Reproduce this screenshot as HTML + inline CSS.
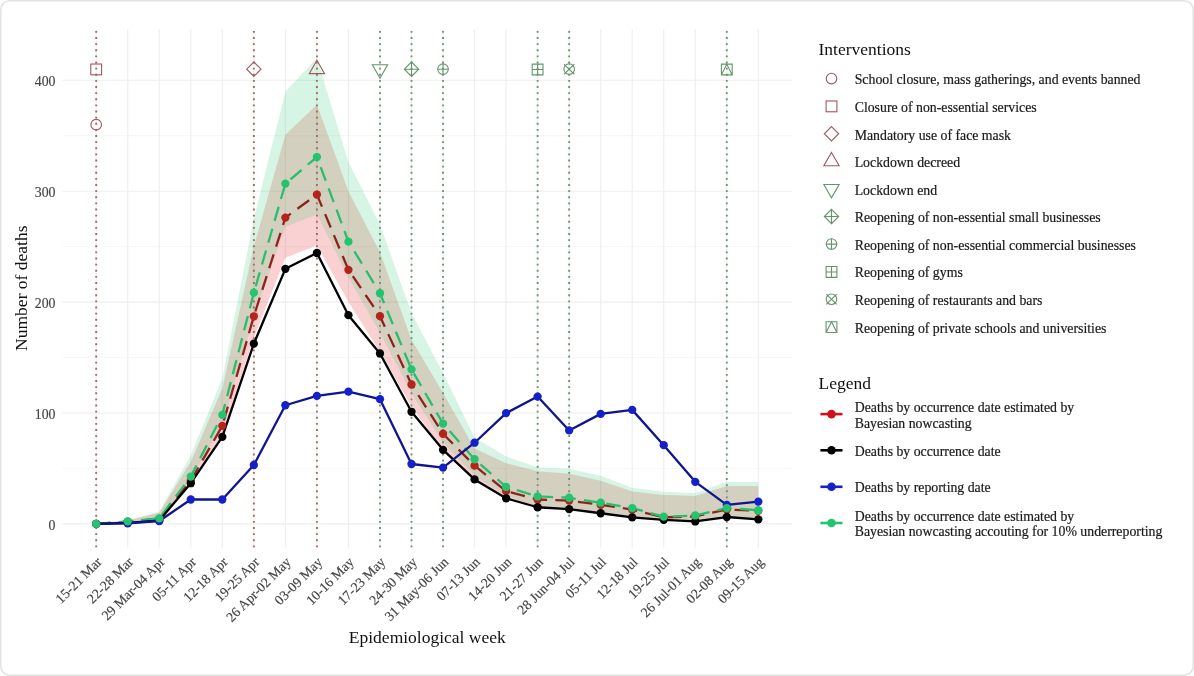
<!DOCTYPE html>
<html><head><meta charset="utf-8"><style>
html,body{margin:0;padding:0;background:#fff;}
svg{display:block;will-change:transform;}
</style></head><body>
<svg width="1194" height="676" viewBox="0 0 1194 676">
<rect x="0" y="0" width="1194" height="676" fill="#fff"/>
<line x1="62.6" x2="791.9" y1="468.45" y2="468.45" stroke="#f4f4f4" stroke-width="0.8"/>
<line x1="62.6" x2="791.9" y1="357.55" y2="357.55" stroke="#f4f4f4" stroke-width="0.8"/>
<line x1="62.6" x2="791.9" y1="246.65" y2="246.65" stroke="#f4f4f4" stroke-width="0.8"/>
<line x1="62.6" x2="791.9" y1="135.75" y2="135.75" stroke="#f4f4f4" stroke-width="0.8"/>
<line x1="62.6" x2="791.9" y1="523.9" y2="523.9" stroke="#eeeeee" stroke-width="1.1"/>
<line x1="62.6" x2="791.9" y1="413" y2="413" stroke="#eeeeee" stroke-width="1.1"/>
<line x1="62.6" x2="791.9" y1="302.1" y2="302.1" stroke="#eeeeee" stroke-width="1.1"/>
<line x1="62.6" x2="791.9" y1="191.2" y2="191.2" stroke="#eeeeee" stroke-width="1.1"/>
<line x1="62.6" x2="791.9" y1="80.3" y2="80.3" stroke="#eeeeee" stroke-width="1.1"/>
<line x1="96.2" x2="96.2" y1="29.3" y2="547.5" stroke="#eeeeee" stroke-width="1.1"/>
<line x1="127.73" x2="127.73" y1="29.3" y2="547.5" stroke="#eeeeee" stroke-width="1.1"/>
<line x1="159.26" x2="159.26" y1="29.3" y2="547.5" stroke="#eeeeee" stroke-width="1.1"/>
<line x1="190.79" x2="190.79" y1="29.3" y2="547.5" stroke="#eeeeee" stroke-width="1.1"/>
<line x1="222.32" x2="222.32" y1="29.3" y2="547.5" stroke="#eeeeee" stroke-width="1.1"/>
<line x1="253.85" x2="253.85" y1="29.3" y2="547.5" stroke="#eeeeee" stroke-width="1.1"/>
<line x1="285.38" x2="285.38" y1="29.3" y2="547.5" stroke="#eeeeee" stroke-width="1.1"/>
<line x1="316.91" x2="316.91" y1="29.3" y2="547.5" stroke="#eeeeee" stroke-width="1.1"/>
<line x1="348.44" x2="348.44" y1="29.3" y2="547.5" stroke="#eeeeee" stroke-width="1.1"/>
<line x1="379.97" x2="379.97" y1="29.3" y2="547.5" stroke="#eeeeee" stroke-width="1.1"/>
<line x1="411.5" x2="411.5" y1="29.3" y2="547.5" stroke="#eeeeee" stroke-width="1.1"/>
<line x1="443.03" x2="443.03" y1="29.3" y2="547.5" stroke="#eeeeee" stroke-width="1.1"/>
<line x1="474.56" x2="474.56" y1="29.3" y2="547.5" stroke="#eeeeee" stroke-width="1.1"/>
<line x1="506.09" x2="506.09" y1="29.3" y2="547.5" stroke="#eeeeee" stroke-width="1.1"/>
<line x1="537.62" x2="537.62" y1="29.3" y2="547.5" stroke="#eeeeee" stroke-width="1.1"/>
<line x1="569.15" x2="569.15" y1="29.3" y2="547.5" stroke="#eeeeee" stroke-width="1.1"/>
<line x1="600.68" x2="600.68" y1="29.3" y2="547.5" stroke="#eeeeee" stroke-width="1.1"/>
<line x1="632.21" x2="632.21" y1="29.3" y2="547.5" stroke="#eeeeee" stroke-width="1.1"/>
<line x1="663.74" x2="663.74" y1="29.3" y2="547.5" stroke="#eeeeee" stroke-width="1.1"/>
<line x1="695.27" x2="695.27" y1="29.3" y2="547.5" stroke="#eeeeee" stroke-width="1.1"/>
<line x1="726.8" x2="726.8" y1="29.3" y2="547.5" stroke="#eeeeee" stroke-width="1.1"/>
<line x1="758.33" x2="758.33" y1="29.3" y2="547.5" stroke="#eeeeee" stroke-width="1.1"/>
<path d="M96.2,523.35 L127.73,520.57 L159.26,512.81 L190.79,461.8 L222.32,388.6 L253.85,246.65 L285.38,134.64 L316.91,104.7 L348.44,191.2 L379.97,252.19 L411.5,339.81 L443.03,393.04 L474.56,448.49 L506.09,463.13 L537.62,471.33 L569.15,473.66 L600.68,480.65 L632.21,491.41 L663.74,494.96 L695.27,496.06 L726.8,486.08 L758.33,486.08 L758.33,519.46 L726.8,517.25 L695.27,521.46 L663.74,519.8 L632.21,517.25 L600.68,513.36 L569.15,509.48 L537.62,507.82 L506.09,498.95 L474.56,480.65 L443.03,450.71 L411.5,406.35 L379.97,352 L348.44,302.1 L316.91,245.54 L285.38,257.74 L253.85,337.59 L222.32,435.18 L190.79,482.87 L159.26,520.57 L127.73,522.79 L96.2,523.9 Z" fill="#e41a1c" fill-opacity="0.2"/>
<path d="M96.2,523.28 L127.73,520.2 L159.26,511.58 L190.79,455.14 L222.32,378.62 L253.85,218.92 L285.38,91.39 L316.91,58.12 L348.44,162.37 L379.97,224.47 L411.5,313.19 L443.03,373.08 L474.56,437.4 L506.09,456.58 L537.62,467.23 L569.15,468.78 L600.68,475.84 L632.21,487.8 L663.74,491.74 L695.27,492.97 L726.8,481.88 L758.33,481.88 L758.33,518.97 L726.8,516.51 L695.27,521.19 L663.74,519.34 L632.21,516.51 L600.68,512.19 L569.15,507.88 L537.62,506.03 L506.09,496.17 L474.56,475.84 L443.03,442.57 L411.5,393.28 L379.97,332.91 L348.44,277.46 L316.91,214.61 L285.38,226.69 L253.85,316.89 L222.32,425.32 L190.79,478.31 L159.26,520.2 L127.73,522.67 L96.2,523.9 Z" fill="#37cd78" fill-opacity="0.2"/>
<line x1="96.2" x2="96.2" y1="30.95" y2="547.5" stroke="#a66862" stroke-width="1.9" stroke-dasharray="1.9 4.225"/>
<line x1="253.85" x2="253.85" y1="30.95" y2="547.5" stroke="#a66862" stroke-width="1.9" stroke-dasharray="1.9 4.225"/>
<line x1="316.91" x2="316.91" y1="30.95" y2="547.5" stroke="#a66862" stroke-width="1.9" stroke-dasharray="1.9 4.225"/>
<line x1="379.97" x2="379.97" y1="30.95" y2="547.5" stroke="#6f9474" stroke-width="1.9" stroke-dasharray="1.9 4.225"/>
<line x1="411.5" x2="411.5" y1="30.95" y2="547.5" stroke="#6f9474" stroke-width="1.9" stroke-dasharray="1.9 4.225"/>
<line x1="443.03" x2="443.03" y1="30.95" y2="547.5" stroke="#6f9474" stroke-width="1.9" stroke-dasharray="1.9 4.225"/>
<line x1="537.62" x2="537.62" y1="30.95" y2="547.5" stroke="#6f9474" stroke-width="1.9" stroke-dasharray="1.9 4.225"/>
<line x1="569.15" x2="569.15" y1="30.95" y2="547.5" stroke="#6f9474" stroke-width="1.9" stroke-dasharray="1.9 4.225"/>
<line x1="726.8" x2="726.8" y1="30.95" y2="547.5" stroke="#6f9474" stroke-width="1.9" stroke-dasharray="1.9 4.225"/>
<path d="M96.2,523.9 L127.73,521.68 L159.26,518.91 L190.79,480.65 L222.32,425.86 L253.85,316.3 L285.38,217.59 L316.91,194.53 L348.44,269.83 L379.97,316.18 L411.5,384.5 L443.03,433.74 L474.56,465.68 L506.09,491.18 L537.62,499.5 L569.15,500.61 L600.68,504.83 L632.21,509.59 L663.74,517.36 L695.27,516.36 L726.8,509.59 L758.33,510.81" fill="none" stroke="#8e231c" stroke-width="2.3" stroke-dasharray="14.5 8.2"/>
<path d="M96.2,523.9 L127.73,521.35 L159.26,518.36 L190.79,476.55 L222.32,414.89 L253.85,292.67 L285.38,183.66 L316.91,157.04 L348.44,241.66 L379.97,293.23 L411.5,369.42 L443.03,423.65 L474.56,459.25 L506.09,486.97 L537.62,496.4 L569.15,497.73 L600.68,502.72 L632.21,508.04 L663.74,516.69 L695.27,515.47 L726.8,508.04 L758.33,510.26" fill="none" stroke="#2cbd6c" stroke-width="2.3" stroke-dasharray="14.5 8.2"/>
<path d="M96.2,523.9 L127.73,522.79 L159.26,520.57 L190.79,483.2 L222.32,436.84 L253.85,343.69 L285.38,268.83 L316.91,252.97 L348.44,315.19 L379.97,353.45 L411.5,411.78 L443.03,449.82 L474.56,479.43 L506.09,498.28 L537.62,507.26 L569.15,509.15 L600.68,513.25 L632.21,517.36 L663.74,519.8 L695.27,521.46 L726.8,517.02 L758.33,519.35" fill="none" stroke="#000" stroke-width="2.3" stroke-linejoin="round"/>
<path d="M96.2,523.9 L127.73,523.35 L159.26,521.02 L190.79,499.5 L222.32,499.5 L253.85,465.01 L285.38,405.24 L316.91,395.81 L348.44,391.6 L379.97,399.14 L411.5,464.01 L443.03,467.56 L474.56,442.72 L506.09,413.11 L537.62,396.59 L569.15,430.41 L600.68,413.89 L632.21,409.89 L663.74,445.16 L695.27,481.87 L726.8,504.94 L758.33,501.61" fill="none" stroke="#0f1490" stroke-width="2.3" stroke-linejoin="round"/>
<circle cx="96.2" cy="523.9" r="4.15" fill="#b5231b"/>
<circle cx="127.73" cy="521.68" r="4.15" fill="#b5231b"/>
<circle cx="159.26" cy="518.91" r="4.15" fill="#b5231b"/>
<circle cx="190.79" cy="480.65" r="4.15" fill="#b5231b"/>
<circle cx="222.32" cy="425.86" r="4.15" fill="#b5231b"/>
<circle cx="253.85" cy="316.3" r="4.15" fill="#b5231b"/>
<circle cx="285.38" cy="217.59" r="4.15" fill="#b5231b"/>
<circle cx="316.91" cy="194.53" r="4.15" fill="#b5231b"/>
<circle cx="348.44" cy="269.83" r="4.15" fill="#b5231b"/>
<circle cx="379.97" cy="316.18" r="4.15" fill="#b5231b"/>
<circle cx="411.5" cy="384.5" r="4.15" fill="#b5231b"/>
<circle cx="443.03" cy="433.74" r="4.15" fill="#b5231b"/>
<circle cx="474.56" cy="465.68" r="4.15" fill="#b5231b"/>
<circle cx="506.09" cy="491.18" r="4.15" fill="#b5231b"/>
<circle cx="537.62" cy="499.5" r="4.15" fill="#b5231b"/>
<circle cx="569.15" cy="500.61" r="4.15" fill="#b5231b"/>
<circle cx="600.68" cy="504.83" r="4.15" fill="#b5231b"/>
<circle cx="632.21" cy="509.59" r="4.15" fill="#b5231b"/>
<circle cx="663.74" cy="517.36" r="4.15" fill="#b5231b"/>
<circle cx="695.27" cy="516.36" r="4.15" fill="#b5231b"/>
<circle cx="726.8" cy="509.59" r="4.15" fill="#b5231b"/>
<circle cx="758.33" cy="510.81" r="4.15" fill="#b5231b"/>
<circle cx="96.2" cy="523.9" r="4.15" fill="#000"/>
<circle cx="127.73" cy="522.79" r="4.15" fill="#000"/>
<circle cx="159.26" cy="520.57" r="4.15" fill="#000"/>
<circle cx="190.79" cy="483.2" r="4.15" fill="#000"/>
<circle cx="222.32" cy="436.84" r="4.15" fill="#000"/>
<circle cx="253.85" cy="343.69" r="4.15" fill="#000"/>
<circle cx="285.38" cy="268.83" r="4.15" fill="#000"/>
<circle cx="316.91" cy="252.97" r="4.15" fill="#000"/>
<circle cx="348.44" cy="315.19" r="4.15" fill="#000"/>
<circle cx="379.97" cy="353.45" r="4.15" fill="#000"/>
<circle cx="411.5" cy="411.78" r="4.15" fill="#000"/>
<circle cx="443.03" cy="449.82" r="4.15" fill="#000"/>
<circle cx="474.56" cy="479.43" r="4.15" fill="#000"/>
<circle cx="506.09" cy="498.28" r="4.15" fill="#000"/>
<circle cx="537.62" cy="507.26" r="4.15" fill="#000"/>
<circle cx="569.15" cy="509.15" r="4.15" fill="#000"/>
<circle cx="600.68" cy="513.25" r="4.15" fill="#000"/>
<circle cx="632.21" cy="517.36" r="4.15" fill="#000"/>
<circle cx="663.74" cy="519.8" r="4.15" fill="#000"/>
<circle cx="695.27" cy="521.46" r="4.15" fill="#000"/>
<circle cx="726.8" cy="517.02" r="4.15" fill="#000"/>
<circle cx="758.33" cy="519.35" r="4.15" fill="#000"/>
<circle cx="96.2" cy="523.9" r="4.15" fill="#1420c8"/>
<circle cx="127.73" cy="523.35" r="4.15" fill="#1420c8"/>
<circle cx="159.26" cy="521.02" r="4.15" fill="#1420c8"/>
<circle cx="190.79" cy="499.5" r="4.15" fill="#1420c8"/>
<circle cx="222.32" cy="499.5" r="4.15" fill="#1420c8"/>
<circle cx="253.85" cy="465.01" r="4.15" fill="#1420c8"/>
<circle cx="285.38" cy="405.24" r="4.15" fill="#1420c8"/>
<circle cx="316.91" cy="395.81" r="4.15" fill="#1420c8"/>
<circle cx="348.44" cy="391.6" r="4.15" fill="#1420c8"/>
<circle cx="379.97" cy="399.14" r="4.15" fill="#1420c8"/>
<circle cx="411.5" cy="464.01" r="4.15" fill="#1420c8"/>
<circle cx="443.03" cy="467.56" r="4.15" fill="#1420c8"/>
<circle cx="474.56" cy="442.72" r="4.15" fill="#1420c8"/>
<circle cx="506.09" cy="413.11" r="4.15" fill="#1420c8"/>
<circle cx="537.62" cy="396.59" r="4.15" fill="#1420c8"/>
<circle cx="569.15" cy="430.41" r="4.15" fill="#1420c8"/>
<circle cx="600.68" cy="413.89" r="4.15" fill="#1420c8"/>
<circle cx="632.21" cy="409.89" r="4.15" fill="#1420c8"/>
<circle cx="663.74" cy="445.16" r="4.15" fill="#1420c8"/>
<circle cx="695.27" cy="481.87" r="4.15" fill="#1420c8"/>
<circle cx="726.8" cy="504.94" r="4.15" fill="#1420c8"/>
<circle cx="758.33" cy="501.61" r="4.15" fill="#1420c8"/>
<circle cx="96.2" cy="523.9" r="4.15" fill="#22c46e"/>
<circle cx="127.73" cy="521.35" r="4.15" fill="#22c46e"/>
<circle cx="159.26" cy="518.36" r="4.15" fill="#22c46e"/>
<circle cx="190.79" cy="476.55" r="4.15" fill="#22c46e"/>
<circle cx="222.32" cy="414.89" r="4.15" fill="#22c46e"/>
<circle cx="253.85" cy="292.67" r="4.15" fill="#22c46e"/>
<circle cx="285.38" cy="183.66" r="4.15" fill="#22c46e"/>
<circle cx="316.91" cy="157.04" r="4.15" fill="#22c46e"/>
<circle cx="348.44" cy="241.66" r="4.15" fill="#22c46e"/>
<circle cx="379.97" cy="293.23" r="4.15" fill="#22c46e"/>
<circle cx="411.5" cy="369.42" r="4.15" fill="#22c46e"/>
<circle cx="443.03" cy="423.65" r="4.15" fill="#22c46e"/>
<circle cx="474.56" cy="459.25" r="4.15" fill="#22c46e"/>
<circle cx="506.09" cy="486.97" r="4.15" fill="#22c46e"/>
<circle cx="537.62" cy="496.4" r="4.15" fill="#22c46e"/>
<circle cx="569.15" cy="497.73" r="4.15" fill="#22c46e"/>
<circle cx="600.68" cy="502.72" r="4.15" fill="#22c46e"/>
<circle cx="632.21" cy="508.04" r="4.15" fill="#22c46e"/>
<circle cx="663.74" cy="516.69" r="4.15" fill="#22c46e"/>
<circle cx="695.27" cy="515.47" r="4.15" fill="#22c46e"/>
<circle cx="726.8" cy="508.04" r="4.15" fill="#22c46e"/>
<circle cx="758.33" cy="510.26" r="4.15" fill="#22c46e"/>
<rect x="90.8" y="64.01" width="10.8" height="10.8" fill="none" stroke="#9e5860" stroke-width="1.1"/>
<circle cx="96.2" cy="124.66" r="5.3" fill="none" stroke="#9e5860" stroke-width="1.1"/>
<path d="M253.85,62.01 L261.05,69.21 L253.85,76.41 L246.65,69.21 Z" fill="none" stroke="#9e5860" stroke-width="1.1"/>
<path d="M316.91,60.27 L324.56,73.67 L309.26,73.67 Z" fill="none" stroke="#9e5860" stroke-width="1.1"/>
<path d="M379.97,78.15 L387.62,64.75 L372.32,64.75 Z" fill="none" stroke="#62966a" stroke-width="1.1"/>
<path d="M411.5,62.01 L418.7,69.21 L411.5,76.41 L404.3,69.21 Z M411.5,62.01 L411.5,76.41 M404.3,69.21 L418.7,69.21" fill="none" stroke="#62966a" stroke-width="1.1"/>
<path d="M443.03,63.91 L443.03,74.51 M437.73,69.21 L448.33,69.21" fill="none" stroke="#62966a" stroke-width="1.1"/><circle cx="443.03" cy="69.21" r="5.3" fill="none" stroke="#62966a" stroke-width="1.1"/>
<path d="M532.22,64.11 h10.8 v10.8 h-10.8 Z M537.62,64.11 v10.8 M532.22,69.51 h10.8" fill="none" stroke="#62966a" stroke-width="1.1"/>
<path d="M563.96,64.02 L574.34,74.4 M563.96,74.4 L574.34,64.02" fill="none" stroke="#62966a" stroke-width="1.1"/><circle cx="569.15" cy="69.21" r="5.3" fill="none" stroke="#62966a" stroke-width="1.1"/>
<path d="M721.4,64.11 h10.8 v10.8 h-10.8 Z M721.4,74.91 L726.8,64.11 L732.2,74.91" fill="none" stroke="#62966a" stroke-width="1.1"/>
<text x="55.5" y="529.9" text-anchor="end" font-family="Liberation Serif" font-size="13.8" fill="#444" stroke="#444" stroke-width="0.15">0</text>
<text x="55.5" y="419" text-anchor="end" font-family="Liberation Serif" font-size="13.8" fill="#444" stroke="#444" stroke-width="0.15">100</text>
<text x="55.5" y="308.1" text-anchor="end" font-family="Liberation Serif" font-size="13.8" fill="#444" stroke="#444" stroke-width="0.15">200</text>
<text x="55.5" y="197.2" text-anchor="end" font-family="Liberation Serif" font-size="13.8" fill="#444" stroke="#444" stroke-width="0.15">300</text>
<text x="55.5" y="86.3" text-anchor="end" font-family="Liberation Serif" font-size="13.8" fill="#444" stroke="#444" stroke-width="0.15">400</text>
<text transform="translate(95.7,556) rotate(-45)" text-anchor="end" font-family="Liberation Serif" font-size="13.8" fill="#444" stroke="#444" stroke-width="0.15" dominant-baseline="hanging">15-21 Mar</text>
<text transform="translate(127.23,556) rotate(-45)" text-anchor="end" font-family="Liberation Serif" font-size="13.8" fill="#444" stroke="#444" stroke-width="0.15" dominant-baseline="hanging">22-28 Mar</text>
<text transform="translate(158.76,556) rotate(-45)" text-anchor="end" font-family="Liberation Serif" font-size="13.8" fill="#444" stroke="#444" stroke-width="0.15" dominant-baseline="hanging">29 Mar-04 Apr</text>
<text transform="translate(190.29,556) rotate(-45)" text-anchor="end" font-family="Liberation Serif" font-size="13.8" fill="#444" stroke="#444" stroke-width="0.15" dominant-baseline="hanging">05-11 Apr</text>
<text transform="translate(221.82,556) rotate(-45)" text-anchor="end" font-family="Liberation Serif" font-size="13.8" fill="#444" stroke="#444" stroke-width="0.15" dominant-baseline="hanging">12-18 Apr</text>
<text transform="translate(253.35,556) rotate(-45)" text-anchor="end" font-family="Liberation Serif" font-size="13.8" fill="#444" stroke="#444" stroke-width="0.15" dominant-baseline="hanging">19-25 Apr</text>
<text transform="translate(284.88,556) rotate(-45)" text-anchor="end" font-family="Liberation Serif" font-size="13.8" fill="#444" stroke="#444" stroke-width="0.15" dominant-baseline="hanging">26 Apr-02 May</text>
<text transform="translate(316.41,556) rotate(-45)" text-anchor="end" font-family="Liberation Serif" font-size="13.8" fill="#444" stroke="#444" stroke-width="0.15" dominant-baseline="hanging">03-09 May</text>
<text transform="translate(347.94,556) rotate(-45)" text-anchor="end" font-family="Liberation Serif" font-size="13.8" fill="#444" stroke="#444" stroke-width="0.15" dominant-baseline="hanging">10-16 May</text>
<text transform="translate(379.47,556) rotate(-45)" text-anchor="end" font-family="Liberation Serif" font-size="13.8" fill="#444" stroke="#444" stroke-width="0.15" dominant-baseline="hanging">17-23 May</text>
<text transform="translate(411,556) rotate(-45)" text-anchor="end" font-family="Liberation Serif" font-size="13.8" fill="#444" stroke="#444" stroke-width="0.15" dominant-baseline="hanging">24-30 May</text>
<text transform="translate(442.53,556) rotate(-45)" text-anchor="end" font-family="Liberation Serif" font-size="13.8" fill="#444" stroke="#444" stroke-width="0.15" dominant-baseline="hanging">31 May-06 Jun</text>
<text transform="translate(474.06,556) rotate(-45)" text-anchor="end" font-family="Liberation Serif" font-size="13.8" fill="#444" stroke="#444" stroke-width="0.15" dominant-baseline="hanging">07-13 Jun</text>
<text transform="translate(505.59,556) rotate(-45)" text-anchor="end" font-family="Liberation Serif" font-size="13.8" fill="#444" stroke="#444" stroke-width="0.15" dominant-baseline="hanging">14-20 Jun</text>
<text transform="translate(537.12,556) rotate(-45)" text-anchor="end" font-family="Liberation Serif" font-size="13.8" fill="#444" stroke="#444" stroke-width="0.15" dominant-baseline="hanging">21-27 Jun</text>
<text transform="translate(568.65,556) rotate(-45)" text-anchor="end" font-family="Liberation Serif" font-size="13.8" fill="#444" stroke="#444" stroke-width="0.15" dominant-baseline="hanging">28 Jun-04 Jul</text>
<text transform="translate(600.18,556) rotate(-45)" text-anchor="end" font-family="Liberation Serif" font-size="13.8" fill="#444" stroke="#444" stroke-width="0.15" dominant-baseline="hanging">05-11 Jul</text>
<text transform="translate(631.71,556) rotate(-45)" text-anchor="end" font-family="Liberation Serif" font-size="13.8" fill="#444" stroke="#444" stroke-width="0.15" dominant-baseline="hanging">12-18 Jul</text>
<text transform="translate(663.24,556) rotate(-45)" text-anchor="end" font-family="Liberation Serif" font-size="13.8" fill="#444" stroke="#444" stroke-width="0.15" dominant-baseline="hanging">19-25 Jul</text>
<text transform="translate(694.77,556) rotate(-45)" text-anchor="end" font-family="Liberation Serif" font-size="13.8" fill="#444" stroke="#444" stroke-width="0.15" dominant-baseline="hanging">26 Jul-01 Aug</text>
<text transform="translate(726.3,556) rotate(-45)" text-anchor="end" font-family="Liberation Serif" font-size="13.8" fill="#444" stroke="#444" stroke-width="0.15" dominant-baseline="hanging">02-08 Aug</text>
<text transform="translate(757.83,556) rotate(-45)" text-anchor="end" font-family="Liberation Serif" font-size="13.8" fill="#444" stroke="#444" stroke-width="0.15" dominant-baseline="hanging">09-15 Aug</text>
<text x="427.3" y="643.1" text-anchor="middle" font-family="Liberation Serif" font-size="17.5" fill="#111">Epidemiological week</text>
<text transform="translate(27,288.2) rotate(-90)" text-anchor="middle" font-family="Liberation Serif" font-size="17.5" fill="#111">Number of deaths</text>
<text x="818.5" y="54.5" font-family="Liberation Serif" font-size="17.5" fill="#111">Interventions</text>
<circle cx="831.5" cy="78.6" r="5.3" fill="none" stroke="#9e5860" stroke-width="1.1"/>
<text x="854.7" y="84.4" font-family="Liberation Serif" font-size="13.8" fill="#1a1a1a" stroke="#1a1a1a" stroke-width="0.2">School closure, mass gatherings, and events banned</text>
<rect x="826.1" y="100.98" width="10.8" height="10.8" fill="none" stroke="#9e5860" stroke-width="1.1"/>
<text x="854.7" y="111.98" font-family="Liberation Serif" font-size="13.8" fill="#1a1a1a" stroke="#1a1a1a" stroke-width="0.2">Closure of non-essential services</text>
<path d="M831.5,126.56 L838.7,133.76 L831.5,140.96 L824.3,133.76 Z" fill="none" stroke="#9e5860" stroke-width="1.1"/>
<text x="854.7" y="139.56" font-family="Liberation Serif" font-size="13.8" fill="#1a1a1a" stroke="#1a1a1a" stroke-width="0.2">Mandatory use of face mask</text>
<path d="M831.5,152.4 L839.15,165.8 L823.85,165.8 Z" fill="none" stroke="#9e5860" stroke-width="1.1"/>
<text x="854.7" y="167.14" font-family="Liberation Serif" font-size="13.8" fill="#1a1a1a" stroke="#1a1a1a" stroke-width="0.2">Lockdown decreed</text>
<path d="M831.5,197.86 L839.15,184.46 L823.85,184.46 Z" fill="none" stroke="#62966a" stroke-width="1.1"/>
<text x="854.7" y="194.72" font-family="Liberation Serif" font-size="13.8" fill="#1a1a1a" stroke="#1a1a1a" stroke-width="0.2">Lockdown end</text>
<path d="M831.5,209.3 L838.7,216.5 L831.5,223.7 L824.3,216.5 Z M831.5,209.3 L831.5,223.7 M824.3,216.5 L838.7,216.5" fill="none" stroke="#62966a" stroke-width="1.1"/>
<text x="854.7" y="222.3" font-family="Liberation Serif" font-size="13.8" fill="#1a1a1a" stroke="#1a1a1a" stroke-width="0.2">Reopening of non-essential small businesses</text>
<path d="M831.5,238.78 L831.5,249.38 M826.2,244.08 L836.8,244.08" fill="none" stroke="#62966a" stroke-width="1.1"/><circle cx="831.5" cy="244.08" r="5.3" fill="none" stroke="#62966a" stroke-width="1.1"/>
<text x="854.7" y="249.88" font-family="Liberation Serif" font-size="13.8" fill="#1a1a1a" stroke="#1a1a1a" stroke-width="0.2">Reopening of non-essential commercial businesses</text>
<path d="M826.1,266.56 h10.8 v10.8 h-10.8 Z M831.5,266.56 v10.8 M826.1,271.96 h10.8" fill="none" stroke="#62966a" stroke-width="1.1"/>
<text x="854.7" y="277.46" font-family="Liberation Serif" font-size="13.8" fill="#1a1a1a" stroke="#1a1a1a" stroke-width="0.2">Reopening of gyms</text>
<path d="M826.31,294.05 L836.69,304.43 M826.31,304.43 L836.69,294.05" fill="none" stroke="#62966a" stroke-width="1.1"/><circle cx="831.5" cy="299.24" r="5.3" fill="none" stroke="#62966a" stroke-width="1.1"/>
<text x="854.7" y="305.04" font-family="Liberation Serif" font-size="13.8" fill="#1a1a1a" stroke="#1a1a1a" stroke-width="0.2">Reopening of restaurants and bars</text>
<path d="M826.1,321.72 h10.8 v10.8 h-10.8 Z M826.1,332.52 L831.5,321.72 L836.9,332.52" fill="none" stroke="#62966a" stroke-width="1.1"/>
<text x="854.7" y="332.62" font-family="Liberation Serif" font-size="13.8" fill="#1a1a1a" stroke="#1a1a1a" stroke-width="0.2">Reopening of private schools and universities</text>
<text x="818.5" y="389.2" font-family="Liberation Serif" font-size="17.5" fill="#111">Legend</text>
<line x1="820.4" x2="842.5" y1="414.1" y2="414.1" stroke="#d0101a" stroke-width="2.6"/>
<circle cx="831.5" cy="414.1" r="4.3" fill="#d0101a"/>
<text x="854.7" y="412.2" font-family="Liberation Serif" font-size="13.8" fill="#1a1a1a" stroke="#1a1a1a" stroke-width="0.2">Deaths by occurrence date estimated by</text>
<text x="854.7" y="427.7" font-family="Liberation Serif" font-size="13.8" fill="#1a1a1a" stroke="#1a1a1a" stroke-width="0.2">Bayesian nowcasting</text>
<line x1="820.4" x2="842.5" y1="450.3" y2="450.3" stroke="#000" stroke-width="2.6"/>
<circle cx="831.5" cy="450.3" r="4.3" fill="#000"/>
<text x="854.7" y="455.8" font-family="Liberation Serif" font-size="13.8" fill="#1a1a1a" stroke="#1a1a1a" stroke-width="0.2">Deaths by occurrence date</text>
<line x1="820.4" x2="842.5" y1="486.8" y2="486.8" stroke="#1420c8" stroke-width="2.6"/>
<circle cx="831.5" cy="486.8" r="4.3" fill="#1420c8"/>
<text x="854.7" y="492.2" font-family="Liberation Serif" font-size="13.8" fill="#1a1a1a" stroke="#1a1a1a" stroke-width="0.2">Deaths by reporting date</text>
<line x1="820.4" x2="842.5" y1="523.0" y2="523.0" stroke="#22c46e" stroke-width="2.6"/>
<circle cx="831.5" cy="523.0" r="4.3" fill="#22c46e"/>
<text x="854.7" y="521.1" font-family="Liberation Serif" font-size="13.8" fill="#1a1a1a" stroke="#1a1a1a" stroke-width="0.2">Deaths by occurrence date estimated by</text>
<text x="854.7" y="535.6" font-family="Liberation Serif" font-size="13.8" fill="#1a1a1a" stroke="#1a1a1a" stroke-width="0.2">Bayesian nowcasting accouting for 10% underreporting</text>
<rect x="0.75" y="0.75" width="1192.5" height="674.5" rx="9" ry="9" fill="none" stroke="#e2e2e2" stroke-width="1.5"/>
</svg>
</body></html>
